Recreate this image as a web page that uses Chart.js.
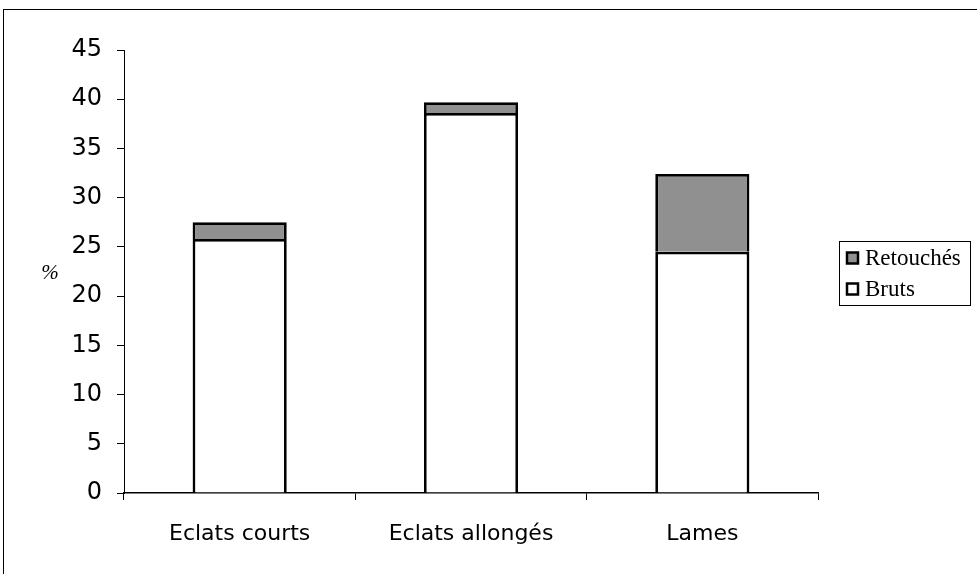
<!DOCTYPE html>
<html>
<head>
<meta charset="utf-8">
<script src="https://cdn.jsdelivr.net/npm/chart.js@4/dist/chart.umd.min.js"></script>
<style>
  body { margin: 0; background: #fff; }
  #frame { position: absolute; left: 3px; top: 9px; width: 990px; height: 590px; border: 1px solid #000; }
  #wrap { position: absolute; left: 0; top: 0; width: 977px; height: 574px; }
</style>
</head>
<body>
<div id="frame"></div>
<div id="wrap"><canvas id="myChart" width="977" height="574"></canvas></div>
<script>
const categories = ['Eclats courts', 'Eclats allongés', 'Lames'];
const bruts = [25.8, 38.6, 24.5];
const retouches = [1.7, 1.1, 7.9];
const yTicks = [0, 5, 10, 15, 20, 25, 30, 35, 40, 45];

// legend box on the right, drawn from the datasets (Retouchés on top)
const boxLegend = {
    id: 'boxLegend',
    afterDraw(chart) {
        const ctx = chart.ctx;
        const x = 839, y = 241, w = 131, h = 64;
        ctx.save();
        ctx.strokeStyle = '#000';
        ctx.lineWidth = 1;
        ctx.strokeRect(x + 0.5, y + 0.5, w, h);
        const items = chart.data.datasets.slice().reverse();
        ctx.font = '23px "Liberation Serif"';
        ctx.textBaseline = 'middle';
        items.forEach((ds, i) => {
            const cy = y + 17 + i * 31;
            ctx.fillStyle = ds.backgroundColor;
            ctx.fillRect(847, cy - 5.5, 11, 11);
            ctx.lineWidth = 2.5;
            ctx.strokeRect(847, cy - 5.5, 11, 11);
            ctx.fillStyle = '#000';
            ctx.fillText(ds.label, 865, cy + 1);
        });
        // y axis title, kept upright like the original
        ctx.font = 'italic 21px "Liberation Serif"';
        ctx.textAlign = 'center';
        ctx.fillText('%', 50, 273);
        ctx.restore();
    }
};

function loadBarChart(){
    const ctx = document.getElementById('myChart').getContext('2d');
    const myChart = new Chart(ctx, {
        type: 'bar',
        data: {
            labels: categories,
            datasets: [{
                label: 'Bruts',
                data: bruts,
                backgroundColor: '#ffffff',
                borderColor: '#000000',
                borderWidth: 2.8
            }, {
                label: 'Retouchés',
                data: retouches,
                backgroundColor: '#909090',
                borderColor: '#000000',
                borderWidth: 2.8
            }]
        },
        options: {
            responsive: false,
            animation: false,
            layout: { padding: { left: 0, right: 159, top: 50, bottom: 0 } },
            datasets: { bar: { categoryPercentage: 1, barPercentage: 0.407 } },
            plugins: { legend: { display: false }, tooltip: { enabled: false } },
            scales: {
                x: {
                    stacked: true,
                    afterFit: s => { s.height = 81; },
                    grid: { offset: true, drawOnChartArea: false, drawTicks: true, tickLength: 7, color: '#000' },
                    border: { display: true, color: '#000', width: 1.5 },
                    ticks: { color: '#000', padding: 21, font: { family: 'DejaVu Sans', size: 22 } }
                },
                y: {
                    stacked: true,
                    min: 0,
                    max: 45,
                    afterFit: s => { s.width = 124; },
                    afterBuildTicks: s => { s.ticks = yTicks.map(v => ({ value: v })); },
                    grid: { drawOnChartArea: false, drawTicks: true, tickLength: 7, color: '#000' },
                    border: { display: true, color: '#000', width: 1 },
                    ticks: { color: '#000', padding: 15, font: { family: 'DejaVu Sans', size: 24 } }
                }
            }
        },
        plugins: [boxLegend]
    });
}
document.addEventListener('DOMContentLoaded', loadBarChart);
</script>
</body>
</html>
